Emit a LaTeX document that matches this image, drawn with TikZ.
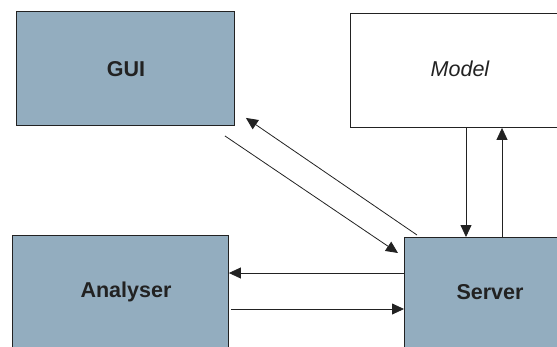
\documentclass[tikz,border=0pt]{standalone}
\usepackage{fontspec}
\setmainfont{Liberation Sans}
\usetikzlibrary{arrows.meta,calc}
\definecolor{boxblue}{HTML}{93ADBF}
\definecolor{ink}{HTML}{222222}
\tikzset{
  box/.style={draw=ink, line width=0.9pt, rectangle, inner sep=0pt, anchor=north west},
  bluebox/.style={box, fill=boxblue},
  lbl/.style={font=\fontsize{21.5}{25}\selectfont\bfseries, text=ink, inner sep=0pt},
  arr/.style={draw=ink, line width=0.8pt, -{Triangle[length=12pt,width=11pt]}}
}
\begin{document}
\begin{tikzpicture}[x=1pt,y=-1pt]
\useasboundingbox (0,0) rectangle (557,346);
\clip (0,0) rectangle (557,346);
\node[bluebox, minimum width=218pt, minimum height=114pt] (gui) at (16,11) {};
\node[box, fill=white, minimum width=220pt, minimum height=114pt] (model) at (350,13) {};
\node[bluebox, minimum width=216pt, minimum height=125pt] (analyser) at (12,235) {};
\node[bluebox, minimum width=170pt, minimum height=125pt] (server) at (404,237) {};
\node[lbl] (guit) at (126,69) {GUI};
\node[lbl, font=\fontsize{21.5}{25}\selectfont\itshape] (modelt) at (460,69) {Model};
\node[lbl] (analysert) at (126,292) {Analyser};
\node[lbl] (servert) at (490,292) {Server};
\coordinate (xa) at (466,0);
\coordinate (xb) at (502,0);
\coordinate (ya) at (0,273);
\coordinate (yb) at (0,309);
\draw[arr] (model.south -| xa) -- (server.north -| xa);
\draw[arr] (server.north -| xb) -- (model.south -| xb);
\draw[arr] (server.west |- ya) -- (analyser.east |- ya);
\draw[arr] ($(analyser.east |- yb)+(2,0)$) -- (server.west |- yb);
\draw[arr] ($(gui.south east)+(-10,10)$) -- ($(server.north west)+(-6,16)$);
\draw[arr] ($(server.north west)+(13,-2)$) -- ($(gui.south east)+(11,-8)$);
\end{tikzpicture}
\end{document}
